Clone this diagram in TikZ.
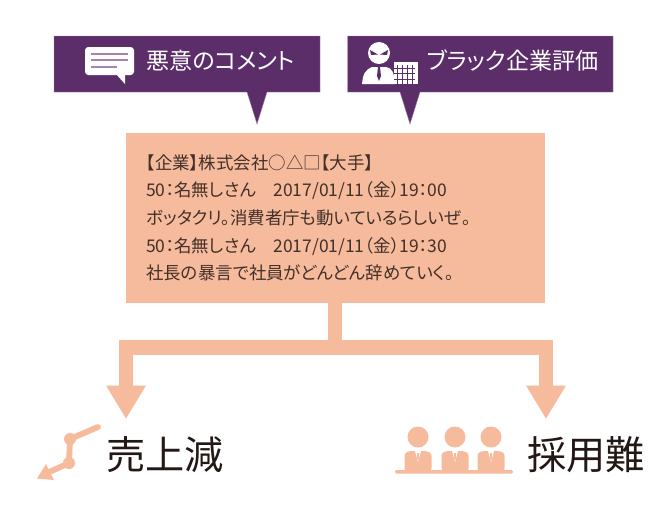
\documentclass[tikz,border=0pt]{standalone}
\usepackage{fontspec}
\usetikzlibrary{arrows.meta}
\setmainfont[RawFeature=+palt]{Noto Sans CJK JP}
\definecolor{plum}{HTML}{5C2E69}
\definecolor{peach}{HTML}{F6BA9C}
\definecolor{ink}{HTML}{231815}
\definecolor{plumline}{HTML}{A583AE}
\tikzset{
  x=0.75pt,y=-0.75pt,
  banner/.style={fill=plum,draw=plumline,line width=0.3pt},
  bannertext/.style={anchor=west,text=white,font=\fontsize{17.3}{19}\selectfont,inner sep=0pt},
  bigtext/.style={anchor=west,text=ink,font=\fontsize{29.4}{32}\selectfont,inner sep=0pt},
  flow/.style={draw=peach,line width=11pt,line join=miter,-{Triangle[width=28pt,length=25pt]}},
}
\begin{document}
\begin{tikzpicture}
\useasboundingbox (0,0) rectangle (671,504);
\fill[white] (0,0) rectangle (671,504);
% banners
\path[banner] (54,36) -- (320,36) -- (320,92) -- (267,92) -- (257,124) -- (247,92) -- (54,92) -- cycle;
\path[banner] (347.5,36) -- (613,36) -- (613,92) -- (420,92) -- (410,124) -- (400,92) -- (347.5,92) -- cycle;
\node[bannertext] (t1) at (146,61) {悪意のコメント};
\node[bannertext] (t2) at (427,61) {ブラック企業評価};
% speech icon
\fill[white,rounded corners=2.5pt] (85,47) rectangle (134,75);
\fill[white] (116,74) -- (125,74) -- (125,84) -- cycle;
\draw[plumline,line width=1.2pt] (91,54) -- (128,54) (91,60) -- (128,60) (91,67) -- (117,67);
% boss icon
\fill[white] (379,53) circle (11);
\fill[plum] (370,50) -- (378,54.5) -- (371,55) -- cycle;
\fill[plum] (388,50) -- (380,54.5) -- (387,55) -- cycle;
\fill[white] (362,84) .. controls (363,74) and (365,70) .. (372,67) -- (386,67) .. controls (392,68) and (394,72) .. (395,84) -- cycle;
\fill[plum] (378,67) -- (380,67) -- (381,76) -- (379,81) -- (377,76) -- cycle;
\fill[white] (394,62) rectangle (418,84);
\foreach \i in {0,1,2,3} \draw[plum,line width=0.6pt] (397.5+5*\i,65) -- (397.5+5*\i,84);
\foreach \j in {0,1,2} \draw[plum,line width=0.6pt] (394,68+5.5*\j) -- (415,68+5.5*\j);
% main box
\node[fill=peach,minimum width=314.25pt,minimum height=127.5pt,inner sep=0pt] (box) at (335.5,218) {};
\node[anchor=north west,inner sep=0pt,align=left,text=ink!85!peach,font=\fontsize{13.1}{20.8}\selectfont] (body) at (146,154)
{【企業】株式会社○△□【大手】\\
50：名無しさん　2017/01/11（金）19：00\\
ボッタクリ。消費者庁も動いているらしいぜ。\\
50：名無しさん　2017/01/11（金）19：30\\
社長の暴言で社員がどんどん辞めていく。};
% flow
\coordinate (sale) at (126,419);
\coordinate (hire) at (546,419);
\draw[flow] (box.south -| 335,0) |- (126,347.5) -- (sale);
\draw[flow] (box.south -| 335,0) |- (546,347.5) -- (hire);
% chart icon
\draw[peach,line width=4.4pt,line cap=round,line join=round] (98,427) -- (70,439) -- (69,463) -- (45,474);
\fill[peach] (70,439) circle (6) (69,463) circle (6);
\fill[peach] (37,478.5) -- (46,464) -- (54,480) -- cycle;
\node[bigtext] (sales) at (106,455) {売上減};
% people icon
\foreach \c in {418,455,491}{
  \fill[peach] (\c,437) circle (10.5);
  \fill[peach,rounded corners=2pt] (\c-13.5,471) -- (\c-13.5,453) -- (\c-8,451) -- (\c+8,451) -- (\c+13.5,453) -- (\c+13.5,471) -- cycle;
  \fill[white] (\c-3,451) -- (\c+3,451) -- (\c,462) -- cycle;
  \fill[peach] (\c-0.8,453) -- (\c+0.8,453) -- (\c+1,458) -- (\c,461) -- (\c-1,458) -- cycle;
}
\fill[peach,rounded corners=1pt] (395,470) rectangle (513,473.5);
\node[bigtext] (hiring) at (527,455) {採用難};
\end{tikzpicture}
\end{document}
